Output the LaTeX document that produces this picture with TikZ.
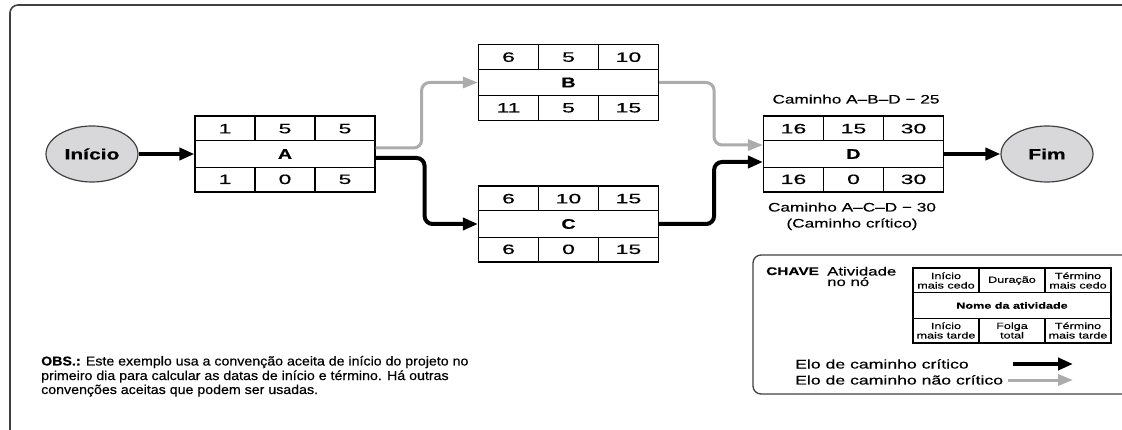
\documentclass[tikz,border=0pt]{standalone}
\usepackage{fontspec}
\setmainfont{Liberation Sans}[FakeStretch=1.4, FakeBold=0.4]
\newfontfamily\numfont{Liberation Sans}[FakeStretch=1.7, FakeBold=0.5]
\newfontfamily\obsfont{Liberation Sans}[FakeStretch=1.1, FakeBold=0.4]
\usetikzlibrary{arrows.meta,shapes.geometric,calc}

\definecolor{noncrit}{RGB}{172,172,172}
\definecolor{ellfill}{RGB}{216,216,218}
\definecolor{framec}{RGB}{64,64,64}

\tikzset{
  critlink/.style={line width=4pt, -{Triangle[length=15pt,width=12pt]}, rounded corners=8pt},
  ncritlink/.style={line width=3pt, draw=noncrit, -{Triangle[length=15pt,width=11pt]}, rounded corners=8pt},
  terminal/.style={ellipse, draw=framec, line width=1.2pt, fill=ellfill, minimum width=92pt, minimum height=56pt, inner sep=0pt, font=\bfseries\fontsize{15}{17}\selectfont},
  actbox/.style={draw, line width=1.2pt, minimum width=180pt, minimum height=76pt, inner sep=0pt},
  cell/.style={font=\numfont\fontsize{13.5}{15}\selectfont, inner sep=0pt},
  actname/.style={font=\bfseries\fontsize{14}{16}\selectfont, inner sep=0pt},
  grid/.style={line width=1.2pt},
  txt/.style={font=\fontsize{12.3}{14}\selectfont, inner sep=0pt},
  obstxt/.style={font=\obsfont\fontsize{12.9}{14}\selectfont, inner sep=0pt, anchor=base west},
}

\newcommand\colw{60}
\newcommand\rowh{25.33}
% name, t1, t2, t3, label, b1, b2, b3
\newcommand\activity[8]{%
  \draw[grid] ($(#1.north west)+(0,\rowh)$) -- ($(#1.north east)+(0,\rowh)$);
  \draw[grid] ($(#1.south west)+(0,-\rowh)$) -- ($(#1.south east)+(0,-\rowh)$);
  \draw[grid] ($(#1.north)+(-\colw/2,0)$) -- ++(0,\rowh);
  \draw[grid] ($(#1.north)+(\colw/2,0)$) -- ++(0,\rowh);
  \draw[grid] ($(#1.south)+(-\colw/2,0)$) -- ++(0,-\rowh);
  \draw[grid] ($(#1.south)+(\colw/2,0)$) -- ++(0,-\rowh);
  \node[cell] (#1-es) at ($(#1.center)+(-\colw,-\rowh)$) {#2};
  \node[cell] (#1-du) at ($(#1.center)+(0,-\rowh)$) {#3};
  \node[cell] (#1-ef) at ($(#1.center)+(\colw,-\rowh)$) {#4};
  \node[actname] (#1-nm) at (#1.center) {#5};
  \node[cell] (#1-ls) at ($(#1.center)+(-\colw,\rowh)$) {#6};
  \node[cell] (#1-fo) at ($(#1.center)+(0,\rowh)$) {#7};
  \node[cell] (#1-lf) at ($(#1.center)+(\colw,\rowh)$) {#8};
}

\begin{document}
\begin{tikzpicture}[x=1pt,y=-1pt]
\useasboundingbox (0,0) rectangle (1122,430);
% outer frame
\draw[framec, line width=1.6pt, rounded corners=8pt] (10,434) -- (10,5) -- (1126,5);

% terminals
\node[terminal] (ini) at (92,154) {Início};
\node[terminal] (fim) at (1047,154) {Fim};

% activity boxes
\node[actbox] (A) at (285,154) {};
\node[actbox] (B) at (568.5,82.5) {};
\node[actbox] (C) at (568.5,224) {};
\node[actbox] (D) at (853.5,154) {};
\activity{A}{1}{5}{5}{A}{1}{0}{5}
\activity{B}{6}{5}{10}{B}{11}{5}{15}
\activity{C}{6}{10}{15}{C}{6}{0}{15}
\activity{D}{16}{15}{30}{D}{16}{0}{30}

% links
\draw[critlink] (ini) -- (A);
\draw[ncritlink] ([yshift=6pt]A.east) -- ++(46,0) |- (B.west);
\draw[critlink] ([yshift=-4pt]A.east) -- ++(49,0) |- (C.west);
\draw[ncritlink] (B.east) -- ++(55,0) |- ([yshift=9pt]D.west);
\draw[critlink] (C.east) -- ++(55,0) |- ([yshift=-8pt]D.west);
\draw[critlink] (D) -- (fim);

% path labels
\node[txt, anchor=base] (pabd) at (856,103.5) {Caminho A–B–D − 25};
\node[txt, anchor=base] (pacd) at (852,211.5) {Caminho A–C–D − 30};
\node[txt, anchor=base] (pcrit) at (852,227.5) {(Caminho crítico)};

% key
\draw[framec, line width=1.3pt, rounded corners=8pt] (1126,255) -- (753,255) -- (753,394) -- (1126,394);
\node[inner sep=0pt, anchor=base west, font=\bfseries\fontsize{11}{12}\selectfont] (chave) at (766,275) {CHAVE};
\node[inner sep=0pt, anchor=base west, font=\fontsize{12}{10.5}\selectfont] (ativ) at (827,275.5) {Atividade};
\node[inner sep=0pt, anchor=base west, font=\fontsize{12}{10.5}\selectfont] (nono) at (827,286) {no nó};

\node[draw, line width=1.2pt, minimum width=198pt, minimum height=75pt, inner sep=0pt] (K) at (1012,305.5) {};
\begin{scope}[cell/.style={font=\fontsize{9}{9.5}\selectfont, inner sep=0pt, align=center},
              actname/.style={font=\bfseries\fontsize{9}{10}\selectfont, inner sep=0pt},
              grid/.style={line width=1.1pt}]
\renewcommand\colw{66}
\renewcommand\rowh{25}
\activity{K}{Início\\mais cedo}{Duração}{Término\\mais cedo}{Nome da atividade}{Início\\mais tarde}{Folga\\total}{Término\\mais tarde}
\end{scope}

\node[txt, anchor=base west, font=\fontsize{12.6}{14}\selectfont] (lcrit) at (795,368.5) {Elo de caminho crítico};
\node[txt, anchor=base west, font=\fontsize{12.6}{14}\selectfont] (lncrit) at (795,384.5) {Elo de caminho não crítico};
\coordinate (lc1) at (1013,364);
\coordinate (lc2) at (1073,364);
\coordinate (ln1) at (1008,380);
\coordinate (ln2) at (1073,380);
\draw[critlink] (lc1) -- (lc2);
\draw[ncritlink] (ln1) -- (ln2);

% note
\node[obstxt] (obs1) at (41,365.5) {\textbf{OBS.:} Este exemplo usa a convenção aceita de início do projeto no};
\node[obstxt] (obs2) at (41,380) {primeiro dia para calcular as datas de início e término. Há outras};
\node[obstxt] (obs3) at (41,394) {convenções aceitas que podem ser usadas.};
\end{tikzpicture}
\end{document}
